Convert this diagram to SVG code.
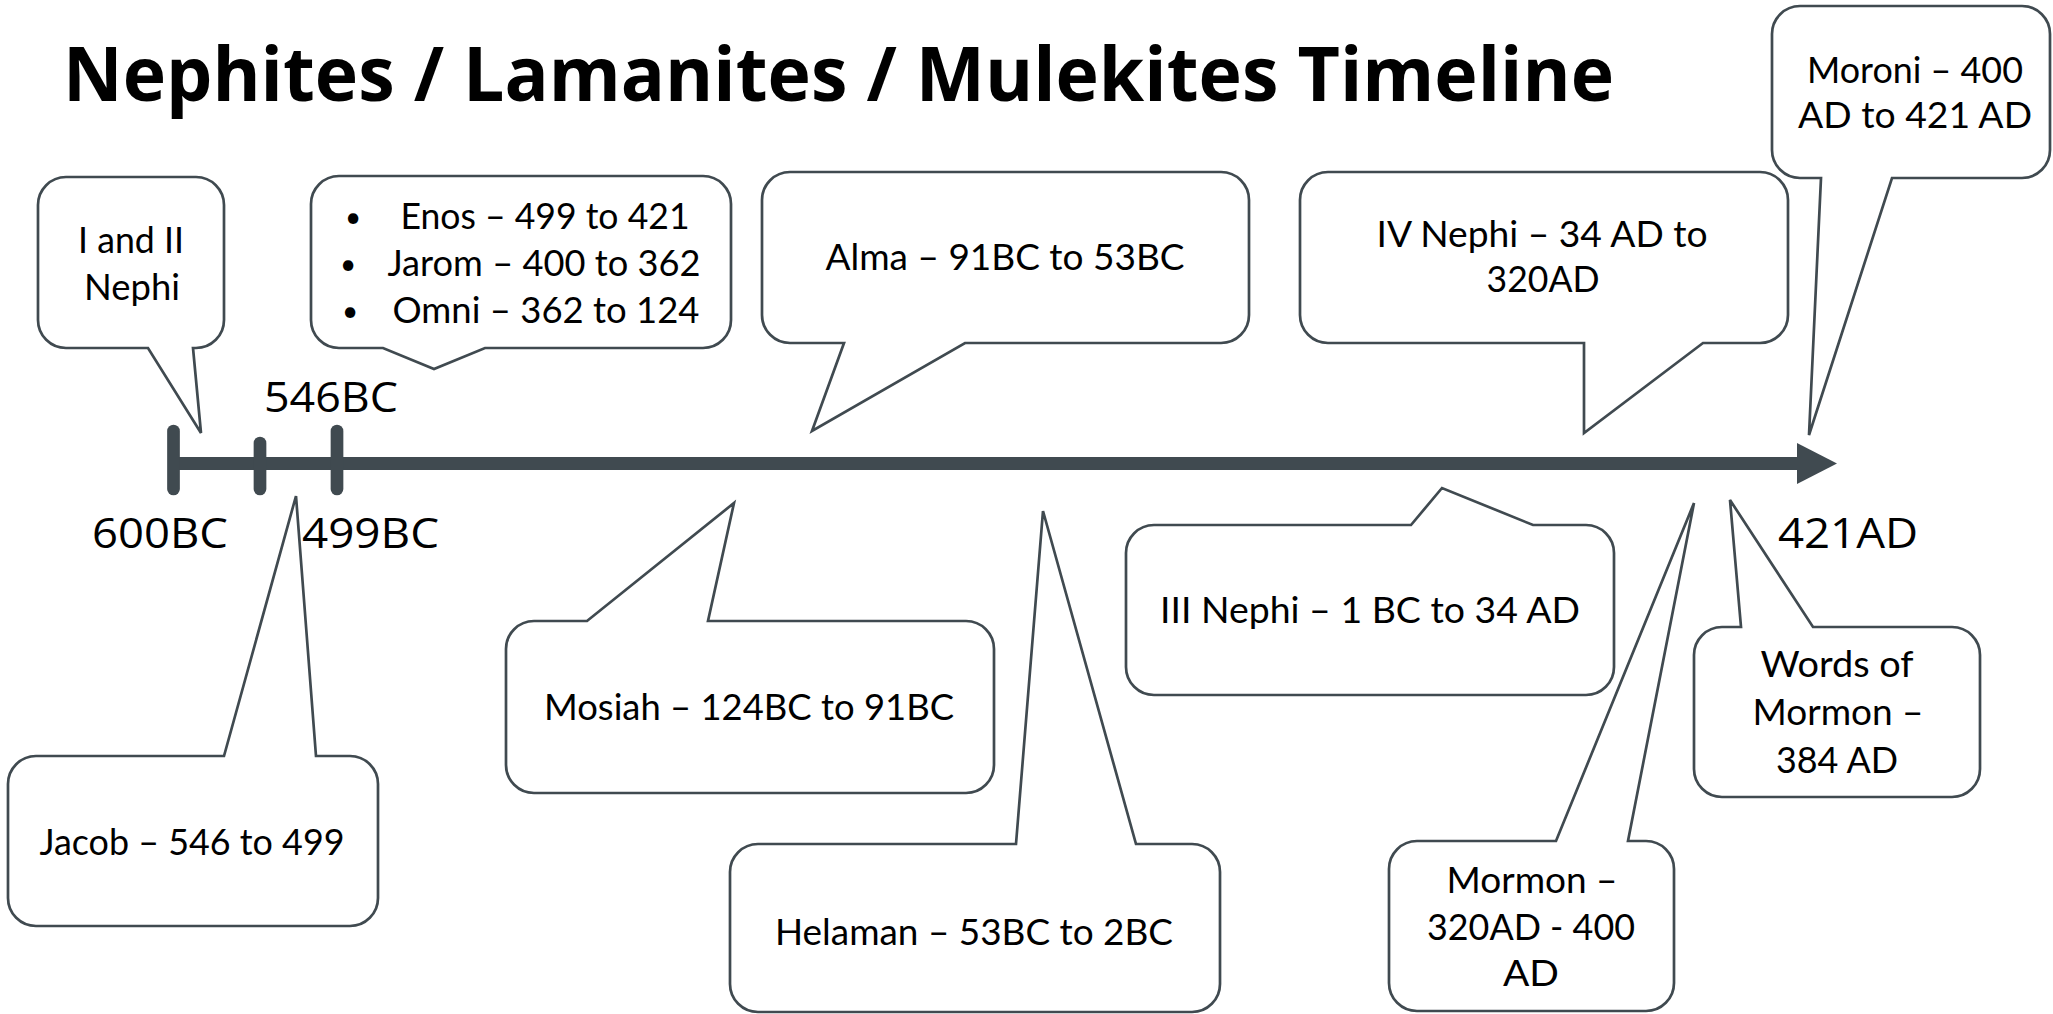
<svg xmlns="http://www.w3.org/2000/svg" width="2053" height="1014" viewBox="0 0 2053 1014">
<style>
.co{fill:#ffffff;stroke:#404a50;stroke-width:2.7;stroke-linejoin:miter}
.t{font-family:Lato,"Liberation Sans",sans-serif;font-size:36px;fill:#000;text-anchor:middle}
.bu{font-family:Lato,"Liberation Sans",sans-serif;font-size:28px;fill:#000;text-anchor:middle}
.lb{font-family:"Open Sans","Liberation Sans",sans-serif;font-size:42px;fill:#000}
.tk{stroke:#404a50;stroke-width:12.7;stroke-linecap:round}
</style>
<rect width="2053" height="1014" fill="#ffffff"/>
<text x="63" y="101" font-family="'Open Sans','Liberation Sans',sans-serif" font-weight="bold" font-size="76" textLength="1551" lengthAdjust="spacingAndGlyphs" fill="#000">Nephites / Lamanites / Mulekites Timeline</text>

<g id="connectors">
  <line x1="174" y1="463.5" x2="1799" y2="463.5" stroke="#404a50" stroke-width="13"/>
  <polygon points="1797,443 1837,463.5 1797,484" fill="#404a50"/>
  <line class="tk" x1="173.5" y1="431" x2="173.5" y2="489"/>
  <line class="tk" x1="260" y1="443" x2="260" y2="489"/>
  <line class="tk" x1="337" y1="431" x2="337" y2="489"/>
</g>

<g id="labels">
  <text class="lb" x="264" y="412" textLength="134" lengthAdjust="spacingAndGlyphs">546BC</text>
  <text class="lb" x="92" y="548" textLength="136" lengthAdjust="spacingAndGlyphs">600BC</text>
  <text class="lb" x="302" y="548" textLength="137" lengthAdjust="spacingAndGlyphs">499BC</text>
  <text class="lb" x="1778" y="548" textLength="140" lengthAdjust="spacingAndGlyphs">421AD</text>
</g>

<g id="nephi12">
  <path class="co" d="M66,177 L196,177 A28 28 0 0 1 224,205 L224,320 A28 28 0 0 1 196,348 L193,348 L201,433 L148,348 L66,348 A28 28 0 0 1 38,320 L38,205 A28 28 0 0 1 66,177 Z"/>
  <text class="t" x="131" y="253" textLength="106" lengthAdjust="spacingAndGlyphs">I and II</text>
  <text class="t" x="132" y="300" textLength="96" lengthAdjust="spacingAndGlyphs">Nephi</text>
</g>

<g id="enos">
  <path class="co" d="M339,176 L703,176 A28 28 0 0 1 731,204 L731,320 A28 28 0 0 1 703,348 L485,348 L434,369 L383,348 L339,348 A28 28 0 0 1 311,320 L311,204 A28 28 0 0 1 339,176 Z"/>
  <text class="bu" x="353" y="227">•</text>
  <text class="t" x="545" y="229" textLength="289" lengthAdjust="spacingAndGlyphs">Enos – 499 to 421</text>
  <text class="bu" x="348" y="274">•</text>
  <text class="t" x="544" y="276" textLength="313" lengthAdjust="spacingAndGlyphs">Jarom – 400 to 362</text>
  <text class="bu" x="350" y="321">•</text>
  <text class="t" x="546" y="323" textLength="307" lengthAdjust="spacingAndGlyphs">Omni – 362 to 124</text>
</g>

<g id="alma">
  <path class="co" d="M790,172 L1221,172 A28 28 0 0 1 1249,200 L1249,315 A28 28 0 0 1 1221,343 L965,343 L812,431 L844,343 L790,343 A28 28 0 0 1 762,315 L762,200 A28 28 0 0 1 790,172 Z"/>
  <text class="t" x="1005" y="270" textLength="359" lengthAdjust="spacingAndGlyphs">Alma – 91BC to 53BC</text>
</g>

<g id="nephi4">
  <path class="co" d="M1328,172 L1760,172 A28 28 0 0 1 1788,200 L1788,315 A28 28 0 0 1 1760,343 L1703,343 L1584,433 L1584,343 L1328,343 A28 28 0 0 1 1300,315 L1300,200 A28 28 0 0 1 1328,172 Z"/>
  <text class="t" x="1542" y="247" textLength="331" lengthAdjust="spacingAndGlyphs">IV Nephi – 34 AD to</text>
  <text class="t" x="1543" y="292" textLength="113" lengthAdjust="spacingAndGlyphs">320AD</text>
</g>

<g id="moroni">
  <path class="co" d="M1800,6 L2022,6 A28 28 0 0 1 2050,34 L2050,150 A28 28 0 0 1 2022,178 L1892,178 L1809,435 L1821,178 L1800,178 A28 28 0 0 1 1772,150 L1772,34 A28 28 0 0 1 1800,6 Z"/>
  <text class="t" x="1915" y="83" textLength="216" lengthAdjust="spacingAndGlyphs">Moroni – 400</text>
  <text class="t" x="1915" y="128" textLength="234" lengthAdjust="spacingAndGlyphs">AD to 421 AD</text>
</g>

<g id="jacob">
  <path class="co" d="M36,756 L224,756 L296,496 L316,756 L350,756 A28 28 0 0 1 378,784 L378,898 A28 28 0 0 1 350,926 L36,926 A28 28 0 0 1 8,898 L8,784 A28 28 0 0 1 36,756 Z"/>
  <text class="t" x="192" y="855" textLength="305" lengthAdjust="spacingAndGlyphs">Jacob – 546 to 499</text>
</g>

<g id="mosiah">
  <path class="co" d="M534,621 L587,621 L734,503 L708,621 L966,621 A28 28 0 0 1 994,649 L994,765 A28 28 0 0 1 966,793 L534,793 A28 28 0 0 1 506,765 L506,649 A28 28 0 0 1 534,621 Z"/>
  <text class="t" x="749" y="720" textLength="410" lengthAdjust="spacingAndGlyphs">Mosiah – 124BC to 91BC</text>
</g>

<g id="helaman">
  <path class="co" d="M758,844 L1016,844 L1043,511 L1136,844 L1192,844 A28 28 0 0 1 1220,872 L1220,984 A28 28 0 0 1 1192,1012 L758,1012 A28 28 0 0 1 730,984 L730,872 A28 28 0 0 1 758,844 Z"/>
  <text class="t" x="974" y="945" textLength="398" lengthAdjust="spacingAndGlyphs">Helaman – 53BC to 2BC</text>
</g>

<g id="nephi3">
  <path class="co" d="M1154,525 L1411,525 L1442,488 L1533,525 L1586,525 A28 28 0 0 1 1614,553 L1614,667 A28 28 0 0 1 1586,695 L1154,695 A28 28 0 0 1 1126,667 L1126,553 A28 28 0 0 1 1154,525 Z"/>
  <text class="t" x="1370" y="623" textLength="420" lengthAdjust="spacingAndGlyphs">III Nephi – 1 BC to 34 AD</text>
</g>

<g id="mormon">
  <path class="co" d="M1417,841 L1556,841 L1694,503 L1628,841 L1646,841 A28 28 0 0 1 1674,869 L1674,983 A28 28 0 0 1 1646,1011 L1417,1011 A28 28 0 0 1 1389,983 L1389,869 A28 28 0 0 1 1417,841 Z"/>
  <text class="t" x="1532" y="893" textLength="171" lengthAdjust="spacingAndGlyphs">Mormon –</text>
  <text class="t" x="1531" y="940" textLength="208" lengthAdjust="spacingAndGlyphs">320AD - 400</text>
  <text class="t" x="1531" y="986" textLength="56" lengthAdjust="spacingAndGlyphs">AD</text>
</g>

<g id="words">
  <path class="co" d="M1722,627 L1741,627 L1730,500 L1813,627 L1952,627 A28 28 0 0 1 1980,655 L1980,769 A28 28 0 0 1 1952,797 L1722,797 A28 28 0 0 1 1694,769 L1694,655 A28 28 0 0 1 1722,627 Z"/>
  <text class="t" x="1837" y="677" textLength="153" lengthAdjust="spacingAndGlyphs">Words of</text>
  <text class="t" x="1838" y="725" textLength="171" lengthAdjust="spacingAndGlyphs">Mormon –</text>
  <text class="t" x="1837" y="773" textLength="122" lengthAdjust="spacingAndGlyphs">384 AD</text>
</g>
</svg>
